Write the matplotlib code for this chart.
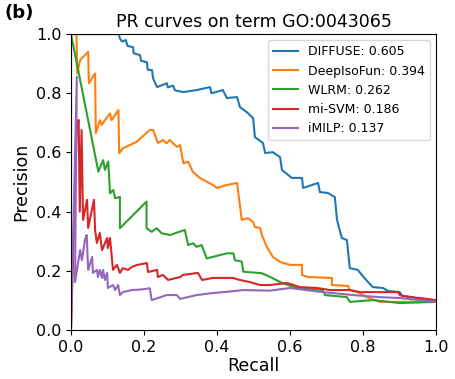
import matplotlib
matplotlib.use('Agg')
import matplotlib.pyplot as plt

# PR curve points (recall, precision)
diffuse_r = [0, 0.131, 0.134, 0.140, 0.150, 0.155, 0.170, 0.172, 0.189, 0.192, 0.208, 0.210,
             0.222, 0.225, 0.236, 0.263, 0.265, 0.280, 0.285, 0.307, 0.345, 0.381, 0.385,
             0.416, 0.427, 0.455, 0.463, 0.482, 0.499, 0.504, 0.526, 0.532, 0.553, 0.573,
             0.578, 0.605, 0.633, 0.636, 0.677, 0.682, 0.704, 0.723, 0.729, 0.742, 0.756,
             0.764, 0.786, 0.797, 0.814, 0.827, 0.855, 0.868, 0.901, 0.907, 0.937, 0.962, 1.0]
diffuse_p = [1.0, 1.0, 0.985, 0.975, 0.98, 0.96, 0.956, 0.935, 0.929, 0.91, 0.905, 0.88,
             0.878, 0.85, 0.821, 0.834, 0.82, 0.826, 0.81, 0.804, 0.811, 0.821, 0.80,
             0.811, 0.784, 0.787, 0.753, 0.736, 0.716, 0.652, 0.632, 0.598, 0.601, 0.584,
             0.541, 0.514, 0.514, 0.480, 0.497, 0.466, 0.463, 0.449, 0.372, 0.311, 0.304,
             0.209, 0.203, 0.186, 0.162, 0.145, 0.142, 0.132, 0.128, 0.115, 0.111, 0.101, 0.095]

deepiso_r = [0, 0.015, 0.017, 0.025, 0.047, 0.049, 0.066, 0.068, 0.079, 0.084, 0.093, 0.107,
             0.111, 0.130, 0.132, 0.142, 0.180, 0.216, 0.225, 0.238, 0.252, 0.262, 0.271,
             0.290, 0.299, 0.308, 0.321, 0.334, 0.353, 0.389, 0.400, 0.427, 0.455, 0.468,
             0.485, 0.499, 0.504, 0.518, 0.523, 0.537, 0.553, 0.573, 0.600, 0.633, 0.633,
             0.649, 0.715, 0.715, 0.759, 0.764, 0.786, 0.811, 0.847, 1.0]
deepiso_p = [1.0, 1.0, 0.867, 0.912, 0.940, 0.834, 0.867, 0.665, 0.709, 0.693, 0.709, 0.732,
             0.709, 0.743, 0.597, 0.614, 0.636, 0.676, 0.676, 0.632, 0.642, 0.631, 0.642,
             0.619, 0.625, 0.563, 0.569, 0.534, 0.514, 0.490, 0.480, 0.490, 0.497, 0.372,
             0.378, 0.365, 0.348, 0.345, 0.321, 0.280, 0.247, 0.230, 0.220, 0.220, 0.186,
             0.179, 0.176, 0.152, 0.149, 0.135, 0.128, 0.111, 0.095, 0.095]

wlrm_r = [0, 0.075, 0.088, 0.093, 0.102, 0.107, 0.116, 0.121, 0.134, 0.134, 0.207, 0.207,
          0.221, 0.235, 0.248, 0.271, 0.312, 0.321, 0.335, 0.344, 0.358, 0.372, 0.427,
          0.445, 0.449, 0.468, 0.472, 0.522, 0.545, 0.551, 0.578, 0.619, 0.690, 0.696,
          0.756, 0.764, 0.827, 0.901, 1.0]
wlrm_p = [1.0, 0.535, 0.574, 0.541, 0.569, 0.462, 0.473, 0.445, 0.450, 0.344, 0.434, 0.344,
          0.332, 0.344, 0.327, 0.321, 0.338, 0.287, 0.293, 0.281, 0.287, 0.242, 0.259,
          0.259, 0.236, 0.231, 0.197, 0.192, 0.180, 0.176, 0.159, 0.142, 0.135, 0.118,
          0.111, 0.095, 0.101, 0.091, 0.095]

misvm_r = [0, 0, 0.016, 0.021, 0.024, 0.029, 0.033, 0.044, 0.047, 0.063, 0.066, 0.071, 0.079,
           0.085, 0.099, 0.101, 0.107, 0.115, 0.126, 0.134, 0.142, 0.156, 0.167, 0.181,
           0.208, 0.211, 0.236, 0.238, 0.252, 0.266, 0.299, 0.307, 0.348, 0.359, 0.389,
           0.444, 0.463, 0.490, 0.518, 0.545, 0.592, 0.627, 0.674, 0.710, 0.764, 0.792,
           0.896, 0.901, 0.929, 0.956, 1.0]
misvm_p = [1.0, 0.0, 0.70, 0.71, 0.40, 0.676, 0.372, 0.44, 0.345, 0.44, 0.338, 0.294, 0.328,
           0.270, 0.311, 0.277, 0.311, 0.203, 0.220, 0.193, 0.209, 0.203, 0.213, 0.220,
           0.226, 0.196, 0.203, 0.179, 0.186, 0.169, 0.179, 0.186, 0.193, 0.169, 0.176,
           0.176, 0.169, 0.162, 0.152, 0.152, 0.159, 0.145, 0.142, 0.135, 0.135, 0.128,
           0.128, 0.118, 0.111, 0.108, 0.101]

imilp_r = [0, 0, 0.016, 0.011, 0.025, 0.030, 0.038, 0.043, 0.047, 0.058, 0.060, 0.071, 0.074,
           0.079, 0.085, 0.088, 0.093, 0.099, 0.101, 0.115, 0.121, 0.129, 0.134, 0.142,
           0.167, 0.194, 0.216, 0.221, 0.262, 0.290, 0.299, 0.344, 0.389, 0.427, 0.472,
           0.545, 0.600, 0.682, 0.773, 0.847, 0.901, 1.0]
imilp_p = [1.0, 0.0, 0.856, 0.162, 0.27, 0.236, 0.304, 0.321, 0.203, 0.247, 0.193, 0.203,
           0.179, 0.203, 0.176, 0.203, 0.169, 0.193, 0.142, 0.152, 0.135, 0.152, 0.118,
           0.128, 0.135, 0.137, 0.141, 0.101, 0.118, 0.118, 0.105, 0.118, 0.125, 0.129,
           0.135, 0.133, 0.142, 0.129, 0.118, 0.111, 0.108, 0.095]

labels = ['DIFFUSE: 0.605', 'DeepIsoFun: 0.394', 'WLRM: 0.262', 'mi-SVM: 0.186', 'iMILP: 0.137']

fig = plt.figure(figsize=(4.56, 3.79), dpi=100)
ax = fig.add_axes([0.1557, 0.1293, 0.8003, 0.7807])

ax.plot(diffuse_r, diffuse_p, color='tab:blue', lw=1.5, label=labels[0])
ax.plot(deepiso_r, deepiso_p, color='tab:orange', lw=1.5, label=labels[1])
ax.plot(wlrm_r, wlrm_p, color='tab:green', lw=1.5, label=labels[2])
ax.plot(misvm_r, misvm_p, color='tab:red', lw=1.5, label=labels[3])
ax.plot(imilp_r, imilp_p, color='tab:purple', lw=1.5, label=labels[4])

ax.set_xlim(0, 1)
ax.set_ylim(0, 1)
ax.set_xticks([0, 0.2, 0.4, 0.6, 0.8, 1.0])
ax.set_yticks([0, 0.2, 0.4, 0.6, 0.8, 1.0])
ax.tick_params(labelsize=11.5)
ax.set_xlabel('Recall', fontsize=12.5, labelpad=2)
ax.set_ylabel('Precision', fontsize=12.5)
ax.set_title('PR curves on term GO:0043065', fontsize=12.5, pad=5)
ax.legend(loc='upper right', fontsize=9)

fig.text(0.01, 0.965, '(b)', fontsize=13, fontweight='bold', va='center')

fig.savefig('out.png', dpi=100)
